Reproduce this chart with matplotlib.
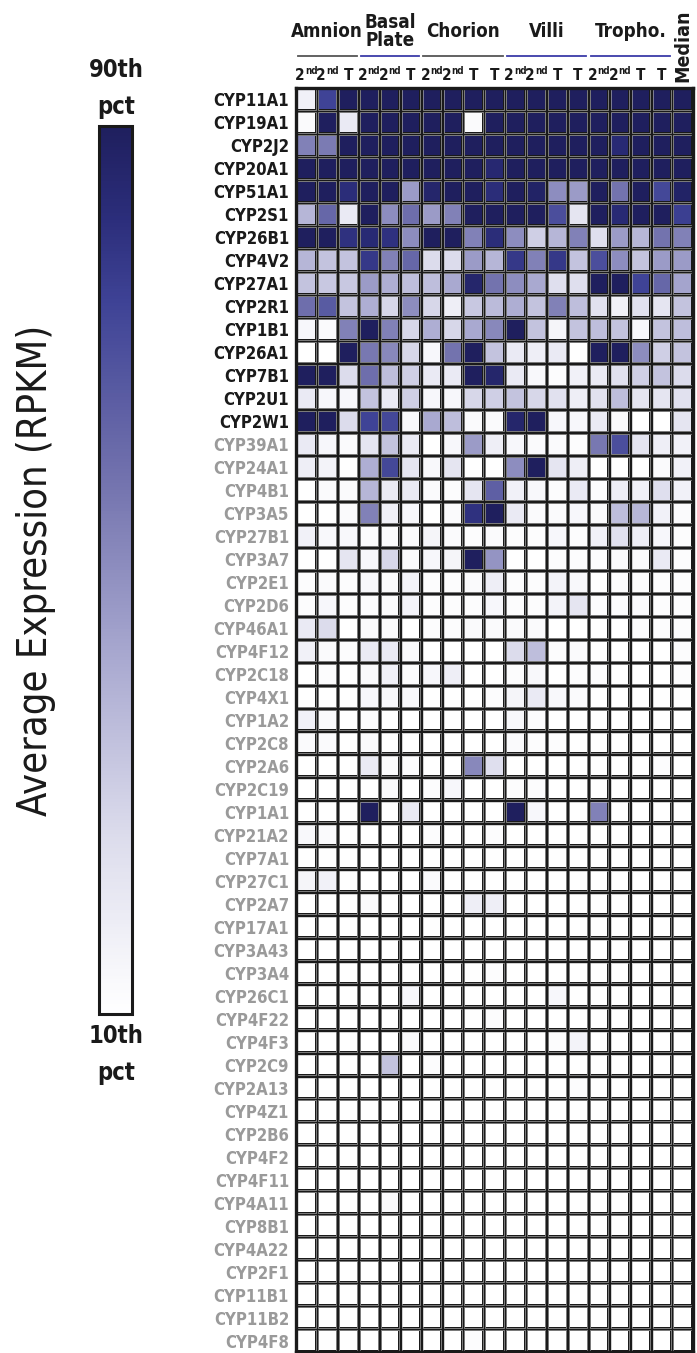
import matplotlib
matplotlib.use("Agg")
import matplotlib.pyplot as plt
import matplotlib.transforms as mtransforms
import numpy as np
from matplotlib import font_manager
from matplotlib.cm import ScalarMappable
from matplotlib.colors import LinearSegmentedColormap, Normalize
from matplotlib.patches import Rectangle

# ---- data (0 = 10th pct, 1 = 90th pct) ----
GENES = [
    "CYP11A1", "CYP19A1", "CYP2J2", "CYP20A1", "CYP51A1", "CYP2S1", "CYP26B1",
    "CYP4V2", "CYP27A1", "CYP2R1", "CYP1B1", "CYP26A1", "CYP7B1", "CYP2U1",
    "CYP2W1", "CYP39A1", "CYP24A1", "CYP4B1", "CYP3A5", "CYP27B1", "CYP3A7",
    "CYP2E1", "CYP2D6", "CYP46A1", "CYP4F12", "CYP2C18", "CYP4X1", "CYP1A2",
    "CYP2C8", "CYP2A6", "CYP2C19", "CYP1A1", "CYP21A2", "CYP7A1", "CYP27C1",
    "CYP2A7", "CYP17A1", "CYP3A43", "CYP3A4", "CYP26C1", "CYP4F22", "CYP4F3",
    "CYP2C9", "CYP2A13", "CYP4Z1", "CYP2B6", "CYP4F2", "CYP4F11", "CYP4A11",
    "CYP8B1", "CYP4A22", "CYP2F1", "CYP11B1", "CYP11B2", "CYP4F8",
]
N_DARK_LABELS = 15

GROUPS = ["Amnion", "Basal\nPlate", "Chorion", "Villi", "Tropho."]
GROUP_LINE_COLORS = ["#555555", "#3c3ca8", "#555555", "#3c3ca8", "#3c3ca8"]
SAMPLE_LABELS = [
    ["2nd", "2nd", "T"],
    ["2nd", "2nd", "T"],
    ["2nd", "2nd", "T", "T"],
    ["2nd", "2nd", "T", "T"],
    ["2nd", "2nd", "T", "T"],
]

AMNION = [
    (.08, .8, 1), (.03, 1, .12), (.55, .57, 1), (1, 1, 1), (1, 1, .9),
    (.35, .65, .12), (1, 1, .88), (.35, .3, .3), (.3, .28, .28), (.62, .7, .3),
    (.05, .03, .55), (0, 0, 1), (1, 1, .2), (.12, .05, .05), (1, 1, .2),
    (.12, .05, .03), (.1, .07, 0), (0, .03, .03), (0, 0, .03), (.08, .04, .04),
    (0, 0, .15), (.02, .03, .02), (.02, .05, .02), (.12, .2, 0), (.08, .03, .02),
    (0, .02, 0), (0, 0, 0), (.08, .03, 0), (.03, .03, 0), (0, 0, 0),
    (0, 0, 0), (0, 0, 0), (.04, .03, 0), (0, .01, 0), (.06, .08, 0),
    (0, 0, 0), (0, 0, 0), (0, 0, 0), (0, 0, 0), (0, 0, 0),
    (0, 0, 0), (0, 0, 0), (0, 0, 0), (0, 0, 0), (0, 0, 0),
    (0, 0, 0), (0, 0, 0), (0, 0, 0), (0, 0, 0), (0, 0, 0),
    (0, 0, 0), (0, 0, 0), (0, 0, 0), (0, 0, 0), (0, .01, 0),
]

BASAL_PLATE = [
    (1, 1, 1), (1, 1, 1), (1, 1, 1), (1, 1, 1), (1, 1, .45),
    (1, .5, .62), (.92, .88, .5), (.85, .55, .65), (.45, .38, .32), (.38, .22, .5),
    (1, .55, .22), (.58, .52, .22), (.62, .32, .25), (.3, .12, .25), (.8, .78, .04),
    (.15, .3, .12), (.38, .78, .15), (.35, .12, .12), (.55, .08, .05), (.02, .02, .03),
    (.05, .22, .03), (.04, .02, .07), (.02, .02, .07), (.03, .02, 0), (.12, .12, .03),
    (.03, .08, .02), (.05, .04, .04), (.02, 0, 0), (.03, .01, 0), (.12, .02, .02),
    (.01, .03, 0), (1, .01, .12), (0, 0, 0), (0, 0, .01), (0, 0, 0),
    (.03, .01, 0), (0, 0, 0), (0, 0, 0), (0, 0, 0), (0, 0, .05),
    (0, .01, 0), (0, 0, .03), (.01, .3, 0), (0, 0, .01), (.01, 0, 0),
    (0, 0, 0), (0, 0, 0), (.01, .01, 0), (0, .03, 0), (0, 0, 0),
    (0, 0, 0), (0, 0, 0), (0, 0, 0), (0, 0, 0), (0, 0, 0),
]

CHORION = [
    (1, 1, 1, 1), (1, 1, .03, 1), (1, 1, 1, 1), (1, 1, 1, .93), (.95, 1, 1, .9),
    (.45, .55, 1, 1), (1, 1, .55, .9), (.2, .2, .45, .35), (.32, .4, .95, .6), (.22, .1, .28, .33),
    (.38, .22, .4, .52), (.05, .6, 1, .3), (.12, .12, 1, .95), (.05, .05, .22, .25), (.4, .32, .03, .03),
    (0, .05, .45, .1), (.04, .15, 0, 0), (.03, .02, .15, .68), (0, .03, .88, 1), (.06, .03, .02, .03),
    (.05, .06, 1, .48), (.02, .02, .03, .1), (.02, .02, .02, .05), (.02, .02, .03, .03), (0, 0, 0, 0),
    (.05, .1, 0, 0), (0, 0, 0, .02), (0, .01, 0, 0), (0, 0, 0, 0), (0, 0, .52, .18),
    (.02, .05, 0, 0), (0, 0, 0, 0), (.02, 0, 0, .02), (0, 0, 0, .01), (.03, 0, 0, 0),
    (0, 0, .1, .1), (.01, 0, 0, 0), (0, 0, 0, 0), (0, 0, .01, .02), (0, 0, 0, 0),
    (0, 0, .01, .02), (0, 0, 0, 0), (.02, 0, 0, 0), (0, 0, 0, .01), (0, 0, 0, 0),
    (0, 0, 0, 0), (0, 0, 0, 0), (.01, 0, 0, .01), (0, 0, 0, 0), (0, 0, 0, 0),
    (0, 0, 0, 0), (0, 0, 0, 0), (0, 0, 0, 0), (0, 0, 0, 0), (0, 0, .02, 0),
]

VILLI = [
    (1, 1, 1, 1), (1, 1, 1, 1), (1, 1, 1, 1), (1, 1, 1, 1), (1, .97, .5, .45),
    (1, 1, .75, .15), (.5, .25, .35, .55), (.85, .55, .85, .3), (.5, .4, .18, .18), (.38, .3, .55, .32),
    (1, .3, .06, .3), (.12, .1, .12, 0), (.12, .04, .02, .08), (.3, .22, .17, .1), (.95, 1, .05, .05),
    (.05, .03, .03, .02), (.5, 1, .15, .1), (.08, .04, .02, .12), (.12, .03, .03, .05), (.02, .02, .05, .02),
    (0, 0, .02, .02), (.02, .02, .07, .04), (.02, .02, .07, .15), (.03, .03, 0, 0), (.2, .32, .02, .03),
    (.02, .04, 0, .02), (.06, .12, .04, .03), (.04, .02, 0, 0), (.03, .02, .02, 0), (0, 0, 0, 0),
    (.02, .02, 0, 0), (1, .05, 0, 0), (0, 0, 0, 0), (0, 0, .01, 0), (.01, 0, 0, 0),
    (0, 0, 0, 0), (0, 0, 0, 0), (0, 0, 0, 0), (0, 0, 0, 0), (0, 0, .05, .01),
    (0, 0, 0, 0), (0, 0, .02, .07), (0, 0, 0, 0), (0, 0, 0, .02), (0, 0, 0, 0),
    (0, 0, 0, 0), (0, 0, 0, 0), (0, 0, 0, 0), (0, 0, 0, 0), (0, 0, 0, 0),
    (0, 0, 0, 0), (0, 0, 0, 0), (0, 0, 0, 0), (0, 0, 0, 0), (0, 0, 0, 0),
]

TROPHO = [
    (1, 1, 1, 1), (1, 1, 1, 1), (1, .92, 1, 1), (1, 1, 1, 1), (1, .6, 1, .78),
    (1, .92, 1, 1), (.18, .45, .35, .6), (.75, .5, .3, .45), (1, 1, .8, .65), (.17, .08, .17, .15),
    (.32, .3, .05, .3), (1, 1, .5, .25), (.12, .17, .25, .3), (.17, .32, .15, .15), (.12, .03, 0, 0),
    (.58, .75, .15, .1), (0, 0, 0, .03), (.02, .1, .08, .18), (.03, .32, .35, .08), (.08, .17, .1, .05),
    (.02, .03, .03, .12), (0, .02, .02, .02), (.02, .02, .03, .02), (0, 0, .02, .02), (0, 0, 0, 0),
    (.02, 0, 0, 0), (0, .01, 0, .01), (0, 0, 0, 0), (0, 0, 0, 0), (0, 0, .01, .02),
    (0, 0, 0, 0), (.55, .01, 0, 0), (0, 0, 0, 0), (0, 0, 0, 0), (0, 0, 0, 0),
    (0, .01, 0, 0), (0, 0, 0, 0), (0, 0, 0, 0), (0, 0, 0, 0), (0, 0, 0, 0),
    (0, 0, 0, 0), (0, 0, 0, 0), (0, 0, 0, 0), (0, 0, 0, 0), (0, 0, 0, 0),
    (0, 0, 0, 0), (0, 0, 0, 0), (0, 0, 0, 0), (0, 0, 0, 0), (0, 0, 0, 0),
    (0, 0, 0, 0), (0, 0, 0, 0), (0, 0, 0, 0), (0, 0, 0, 0), (0, 0, 0, 0),
]

MEDIAN = [
    1, 1, 1, 1, .97, .82, .55, .45, .42, .3,
    .32, .3, .2, .17, .15, .08, .08, .08, .03, .02,
    .02, .02, .02, .02, .02, .02, .01, 0, 0, 0,
    0, 0, 0, 0, 0, 0, 0, 0, 0, 0,
    0, 0, 0, 0, 0, 0, 0, 0, 0, 0,
    0, 0, 0, 0, 0,
]

CMAP = LinearSegmentedColormap.from_list(
    "rpkm",
    [(0.0, "#ffffff"), (0.2, "#dcdcec"), (0.4, "#a9a9d0"), (0.6, "#7373ae"),
     (0.8, "#3f4396"), (0.9, "#2b2d7a"), (1.0, "#1f1f5e")],
)

# ---- fonts: the original uses a condensed sans ----
entries = {(f.name, f.stretch) for f in font_manager.fontManager.ttflist}
names = {n for n, _ in entries}
if "Liberation Sans Narrow" in names:
    FONT, STRETCH = "Liberation Sans Narrow", "normal"
elif ("DejaVu Sans", "condensed") in entries:
    FONT, STRETCH = "DejaVu Sans", "condensed"
else:
    FONT, STRETCH = "Lato", "normal"
plt.rcParams["font.family"] = [FONT, "DejaVu Sans"]
plt.rcParams["font.stretch"] = STRETCH

W, H = 697, 1353
INK = "#1a1a1a"


def box(left, top, right, bottom):
    return [left / W, 1 - bottom / H, (right - left) / W, (bottom - top) / H]


def fy(y):
    return 1 - y / H


values = np.hstack([
    np.array(AMNION), np.array(BASAL_PLATE), np.array(CHORION),
    np.array(VILLI), np.array(TROPHO), np.array(MEDIAN)[:, None],
])
n_rows, n_cols = values.shape

fig = plt.figure(figsize=(W / 100, H / 100), dpi=100)

# ---- heatmap ----
ax = fig.add_axes(box(296, 88, 693, 1352))
ax.pcolormesh(np.arange(n_cols + 1), np.arange(n_rows + 1), values,
              cmap=CMAP, vmin=0, vmax=1, edgecolors=INK, linewidth=1.7)
# thin grey rim just inside each black cell border
ix, iy = 1.3 / 20.9, 1.3 / 23.0
for i in range(n_rows):
    for j in range(n_cols):
        ax.add_patch(Rectangle((j + ix, i + iy), 1 - 2 * ix, 1 - 2 * iy,
                               facecolor="none", edgecolor="#b4b4b4",
                               linewidth=0.45))
ax.set_xlim(0, n_cols)
ax.set_ylim(n_rows, 0)
for sp in ax.spines.values():
    sp.set_linewidth(2.4)
    sp.set_color(INK)
ax.set_xticks([])
ax.set_yticks(np.arange(n_rows) + 0.5)
ax.set_yticklabels(GENES, fontsize=12, fontweight="bold")
ax.tick_params(axis="y", length=0, pad=5)
for k, lab in enumerate(ax.get_yticklabels()):
    lab.set_color(INK if k < N_DARK_LABELS else "#9a9a9a")

# ---- column header ----
trans = mtransforms.blended_transform_factory(ax.transData, fig.transFigure)
sup = mtransforms.offset_copy(trans, fig=fig, x=-1.5, y=5.5, units="dots")
base = mtransforms.offset_copy(trans, fig=fig, x=-1.5, y=0, units="dots")
start = 0
for name, labels, lc in zip(GROUPS, SAMPLE_LABELS, GROUP_LINE_COLORS):
    stop = start + len(labels)
    mid = (start + stop) / 2
    if "\n" in name:
        top, bot = name.split("\n")
        ax.text(mid, fy(28), top, transform=trans, ha="center", va="baseline",
                fontsize=13.5, fontweight="bold", color=INK, clip_on=False)
        ax.text(mid, fy(46), bot, transform=trans, ha="center", va="baseline",
                fontsize=13.5, fontweight="bold", color=INK, clip_on=False)
    else:
        ax.text(mid, fy(37), name, transform=trans, ha="center", va="baseline",
                fontsize=13.5, fontweight="bold", color=INK, clip_on=False)
    ax.plot([start + 0.1, stop - 0.1], [fy(56), fy(56)], transform=trans,
            color=lc, linewidth=1.3, clip_on=False)
    for k, lab in enumerate(labels):
        x = start + k + 0.5
        if lab == "2nd":
            ax.text(x, fy(80), "2", transform=base, ha="right", va="baseline",
                    fontsize=11, fontweight="bold", color=INK, clip_on=False)
            ax.text(x, fy(80), "nd", transform=sup, ha="left", va="baseline",
                    fontsize=7, fontweight="bold", color=INK, clip_on=False)
        else:
            ax.text(x, fy(80), lab, transform=trans, ha="center",
                    va="baseline", fontsize=11, fontweight="bold", color=INK,
                    clip_on=False)
    start = stop
ax.text(n_cols - 0.5, fy(46), "Median", transform=trans, ha="center",
        va="center", rotation=90, fontsize=14, fontweight="bold", color=INK,
        clip_on=False)

# ---- colour bar ----
cax = fig.add_axes(box(99, 126, 132, 1014))
cb = fig.colorbar(ScalarMappable(norm=Normalize(0, 1), cmap=CMAP), cax=cax)
cb.set_ticks([])
cb.outline.set_linewidth(2.2)
cb.outline.set_edgecolor(INK)

for text, y in [("90th", 77), ("pct", 114), ("10th", 1043), ("pct", 1080)]:
    fig.text(116 / W, fy(y), text, ha="center", va="baseline", fontsize=17,
             fontweight="bold", color=INK)
fig.text(36 / W, fy(570), "Average Expression (RPKM)", ha="center",
         va="center", rotation=90, fontsize=28.5, color=INK)

fig.savefig("out.png", dpi=100)
